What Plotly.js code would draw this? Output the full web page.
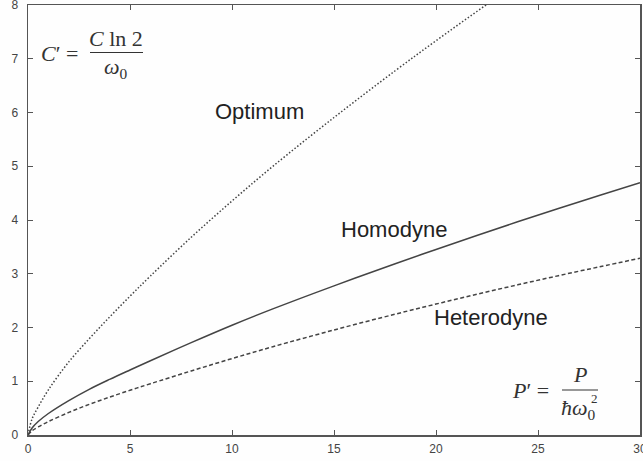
<!DOCTYPE html>
<html>
<head>
<meta charset="utf-8">
<script src="https://cdn.plot.ly/plotly-3.0.1.min.js"></script>
<style>html,body{margin:0;padding:0;background:#fefefe;}</style>
</head>
<body>
<div id="chart" style="width:643px;height:461px;"></div>
<script>
// Normalised power P' (x) and normalised capacity C' (y)
var powerX      = [0, 0.2, 0.5, 1, 2, 3, 4, 5, 6, 8, 10, 12, 15, 18, 20, 22, 24, 26, 28, 30];
var optimumY    = [0, 0.30, 0.52, 0.84, 1.36, 1.79, 2.195, 2.583, 2.958, 3.678, 4.354, 4.998, 5.907, 6.777, 7.335, 7.879, 8.409, 8.93, 9.44, 9.94];
var homodyneY   = [0, 0.13, 0.25, 0.40, 0.64, 0.85, 1.035, 1.21, 1.382, 1.718, 2.042, 2.346, 2.775, 3.186, 3.452, 3.712, 3.966, 4.214, 4.456, 4.694];
var heterodyneY = [0, 0.08, 0.15, 0.25, 0.42, 0.57, 0.705, 0.832, 0.954, 1.192, 1.422, 1.642, 1.954, 2.248, 2.436, 2.618, 2.794, 2.964, 3.128, 3.288];
var xTicks = [0, 5, 10, 15, 20, 25, 30];
var yTicks = [0, 1, 2, 3, 4, 5, 6, 7, 8];

var W = 643, H = 461, L = 28, R = 3, T = 5, B = 26;
function px(x){ return (x - L) / (W - L - R); }
function py(y){ return (H - B - y) / (H - T - B); }

var lineCol = '#444';
var traces = [
  {x: powerX, y: optimumY, mode: 'lines', line: {color: lineCol, width: 1.5, dash: '1.5px,2px', shape: 'spline'}, name: 'Optimum'},
  {x: powerX, y: homodyneY, mode: 'lines', line: {color: lineCol, width: 1.5, shape: 'spline'}, name: 'Homodyne'},
  {x: powerX, y: heterodyneY, mode: 'lines', line: {color: lineCol, width: 1.5, dash: '4px,2.5px', shape: 'spline'}, name: 'Heterodyne'}
];

var sans = 'Liberation Sans, Arial, Helvetica, sans-serif';
var serif = 'Liberation Serif, DejaVu Serif, serif';
function ann(text, x, y, font, size, color){
  return {text: text, xref: 'paper', yref: 'paper', x: px(x), y: py(y), xanchor: 'center', yanchor: 'middle',
          showarrow: false, font: {family: font, size: size, color: color || '#222'}};
}
var annotations = [
  ann('Optimum', 259, 111, sans, 22),
  ann('Homodyne', 394, 229, sans, 22),
  ann('Heterodyne', 491, 317, sans, 22),
  ann('<i>C</i>′ =', 59, 53, serif, 22, '#333'),
  ann('<i>C</i> ln 2', 116, 38, serif, 22, '#333'),
  ann('<i>ω</i><sub>0</sub>', 116, 68, serif, 22, '#333'),
  ann('<i>P</i>′ =', 530, 390, serif, 22, '#333'),
  ann('<i>P</i>', 580, 374, serif, 22, '#333'),
  ann('<i>ħω</i><sub>0</sub>', 578, 409, serif, 22, '#333'),
  ann('2', 594, 398, serif, 13, '#333')
];
var shapes = [
  {type: 'line', xref: 'paper', yref: 'paper', x0: px(90), x1: px(143), y0: py(52.5), y1: py(52.5), line: {color: '#333', width: 1}},
  {type: 'line', xref: 'paper', yref: 'paper', x0: px(562), x1: px(598), y0: py(390), y1: py(390), line: {color: '#333', width: 1}}
];

var axisCommon = {
  showline: true, linecolor: '#555', linewidth: 1.5, mirror: 'ticks',
  ticks: 'inside', ticklen: 5, tickwidth: 1, tickcolor: '#555',
  showgrid: false, zeroline: false, ticklabeloverflow: 'allow',
  tickfont: {family: sans, size: 12, color: '#444'}
};
var layout = {
  width: W, height: H,
  margin: {l: L, r: R, t: T, b: B},
  paper_bgcolor: '#fefefe', plot_bgcolor: '#fefefe',
  showlegend: false,
  xaxis: Object.assign({}, axisCommon, {range: [0, 30], tickvals: xTicks, ticktext: xTicks.map(String), ticklabelstandoff: 2}),
  yaxis: Object.assign({}, axisCommon, {range: [0, 8], tickvals: yTicks, ticktext: yTicks.map(String), ticklabelstandoff: 6}),
  annotations: annotations,
  shapes: shapes
};
Plotly.newPlot('chart', traces, layout, {displayModeBar: false, staticPlot: true});
</script>
</body>
</html>
